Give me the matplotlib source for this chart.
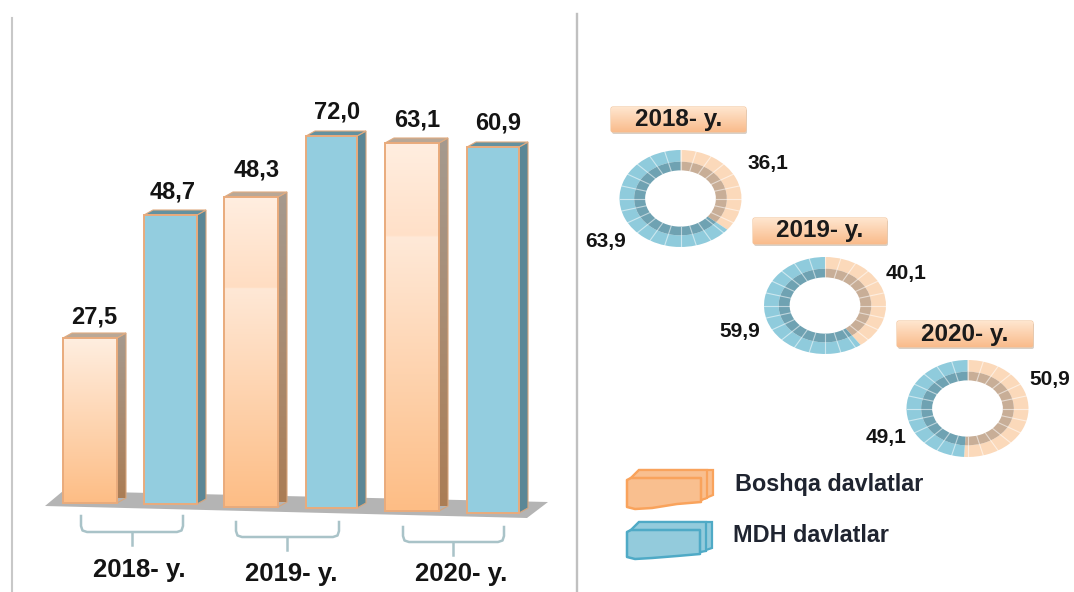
import numpy as np
import matplotlib
matplotlib.use('Agg')
import matplotlib.pyplot as plt
from matplotlib.colors import LinearSegmentedColormap
from matplotlib.patches import Polygon, FancyBboxPatch

plt.rcParams['font.family'] = ['Liberation Sans', 'DejaVu Sans']

# values printed on the chart
years = ['2018- y.', '2019- y.', '2020- y.']
boshqa = [27.5, 48.3, 63.1]
mdh = [48.7, 72.0, 60.9]
boshqa_share = [36.1, 40.1, 50.9]
mdh_share = [63.9, 59.9, 49.1]
legend_names = ['Boshqa davlatlar', 'MDH davlatlar']

# drawn bar heights (the bars there are not to scale with the labels)
bar_heights = [165, 289, 310, 372, 368, 366]


def fmt(v):
    return f'{v:.1f}'.replace('.', ',')


W, H = 1074, 592
fig = plt.figure(figsize=(W / 100, H / 100), dpi=100)

# pixel axes for the decoration, y goes down like in the picture
ax = fig.add_axes([0, 0, 1, 1])
ax.set_xlim(0, W)
ax.set_ylim(H, 0)
ax.axis('off')


def gradient(a, x0, x1, y0, y1, stops, clip, zorder=3):
    cmap = LinearSegmentedColormap.from_list('g', stops)
    img = a.imshow(np.linspace(0, 1, 256)[:, None], cmap=cmap, vmin=0, vmax=1,
                   extent=(x0, x1, y0, y1), origin='upper', aspect='auto',
                   interpolation='bilinear', zorder=zorder)
    img.set_clip_path(clip)


# separators
ax.plot([11.5, 11.5], [18, 592], color='#c8c8c8', lw=1.5)
ax.plot([577, 577], [14, 592], color='#c0c0c0', lw=1.7)

# floor
ax.add_patch(Polygon([(45, 506), (63, 491), (548, 502), (527, 518)], color='#b4b4b4', lw=0))

# brackets
bracket_x = [(81, 183, 132), (236, 339, 287), (403, 504, 453)]
bracket_y = [(516, 532, 545), (522, 537, 550), (527, 542, 555)]
for (xa, xb, xm), (ya, yb, yc) in zip(bracket_x, bracket_y):
    ax.plot([xa, xa, xa + 1.5, xa + 6, xb - 6, xb - 1.5, xb, xb],
            [ya, yb - 6, yb - 1.5, yb, yb, yb - 1.5, yb - 6, ya],
            color='#a9c3c8', lw=1.8, solid_joinstyle='round')
    ax.plot([xm, xm], [yb, yc], color='#a9c3c8', lw=1.8)

# bars, on an axes with y going up
bx = fig.add_axes([0, 0, 1, 1], zorder=2)
bx.patch.set_alpha(0)
bx.axis('off')

lefts = [63, 144, 224, 306, 385, 467]
rights = [117, 197, 278, 357, 439, 519]
bases = [H - b for b in [503, 504, 507, 508, 511, 513]]
widths = [r - l for l, r in zip(lefts, rights)]
centers = [(l + r) / 2 for l, r in zip(lefts, rights)]
is_orange = [True, False, True, False, True, False]
value_list = [boshqa[0], mdh[0], boshqa[1], mdh[1], boshqa[2], mdh[2]]
orange_stops = {
    0: [(0, '#ffeee0'), (1, '#fdbd85')],
    2: [(0, '#ffeee0'), (0.29, '#ffddc2'), (0.295, '#ffe8d6'), (1, '#fdbd85')],
    4: [(0, '#ffeee0'), (0.25, '#ffe0c8'), (0.255, '#ffe9d8'), (1, '#fdbd85')],
}
label_pos = [(94, 317), (173, 192), (257, 170), (337, 112), (417, 120), (498, 123)]

bars = bx.bar(centers, bar_heights, width=widths, bottom=bases,
              color=['none' if o else '#93cddf' for o in is_orange],
              edgecolor='#e9ab7c', linewidth=1.4, zorder=5)
dx, dy = 9, 5
for i, b in enumerate(bars):
    l, r = b.get_x(), b.get_x() + b.get_width()
    y0, y1 = b.get_y(), b.get_y() + b.get_height()
    side = Polygon([(r, y1), (r + dx, y1 + dy), (r + dx, y0 + dy), (r, y0)], lw=0.8,
                   edgecolor='#d9a67c', facecolor='none', zorder=4)
    top = Polygon([(l, y1), (l + dx, y1 + dy), (r + dx, y1 + dy), (r, y1)], lw=0.8,
                  edgecolor='#e0ab80', zorder=4,
                  facecolor='#b9a897' if is_orange[i] else '#64919f')
    bx.add_patch(side)
    bx.add_patch(top)
    if is_orange[i]:
        gradient(bx, r, r + dx, y0 + dy, y1 + dy, [(0, '#a59a8f'), (1, '#ab7d55')], side)
        gradient(bx, l, r, y0, y1, orange_stops[i], b, zorder=4.5)
    else:
        side.set_facecolor('#5b8796')
    tx, ty = label_pos[i]
    ax.text(tx, ty, fmt(value_list[i]), ha='center', va='center', fontsize=17,
            fontweight='bold', color='#141414', zorder=8)
bx.set_xlim(0, W)
bx.set_ylim(0, H)

year_pos = [(139, 570), (291, 574), (461, 574)]
for (x, y), name in zip(year_pos, years):
    ax.text(x, y, name, ha='center', va='center', fontsize=18.5, fontweight='bold', color='#141414')

# rings
ring_centers = [(680.5, 198.5), (825, 305.5), (967.5, 408.5)]
rx, ry = 61, 48.5
ring_labels = [((768, 164), (606, 241)), ((906, 273), (740, 331)), ((1050, 379), (886, 437))]
badges = [(611, 107, 746, 132), (753, 218, 887, 244), (897, 321, 1033, 347)]
for i in range(3):
    cx, cy = ring_centers[i]
    pa = fig.add_axes([(cx - rx) / W, 1 - (cy + ry) / H, 2 * rx / W, 2 * ry / H])
    shares = [boshqa_share[i], mdh_share[i]]
    pa.pie(shares, colors=['#fbd9ba', '#8fcbdc'], startangle=90, counterclock=False,
           radius=1, wedgeprops={'width': 0.24, 'linewidth': 0})
    pa.pie(shares, colors=['#c8ae97', '#6fa2b2'], startangle=90, counterclock=False,
           radius=0.76, wedgeprops={'width': 0.18, 'linewidth': 0})
    pa.set_aspect('auto')
    pa.set_xlim(-1, 1)
    pa.set_ylim(-1, 1)
    for a in np.arange(0, 360, 15):
        c, s = np.cos(np.radians(a)), np.sin(np.radians(a))
        pa.plot([0.58 * c, 1.02 * c], [0.58 * s, 1.02 * s], color='white', lw=0.8, alpha=0.55)

    for (x, y), v in zip(ring_labels[i], shares):
        ax.text(x, y, fmt(v), ha='center', va='center', fontsize=15, fontweight='bold', color='#141414')

    x0, y0, x1, y1 = badges[i]
    ax.add_patch(FancyBboxPatch((x0 + 1, y0 + 2), x1 - x0, y1 - y0, boxstyle='round,pad=0,rounding_size=2',
                                fc='#d8d0c8', ec='none', zorder=2))
    badge = FancyBboxPatch((x0, y0), x1 - x0, y1 - y0, boxstyle='round,pad=0,rounding_size=2',
                           fc='none', ec='#f2c49c', lw=0.8, zorder=3)
    ax.add_patch(badge)
    gradient(ax, x0, x1, y1, y0, [(0, '#ffe6cf'), (1, '#f9bb8b')], badge)
    ax.set_xlim(0, W)
    ax.set_ylim(H, 0)
    ax.text((x0 + x1) / 2, (y0 + y1) / 2, years[i], ha='center', va='center', fontsize=17.5,
            fontweight='bold', color='#1a1a1a', zorder=4)

# legend
legend_shapes = [
    dict(fill='#f9bf8f', edge='#f9a35c', x0=627, x1=701, top=478, bl=508, br=502, xb=713, back=470, brb=495, ty=485, tx=735),
    dict(fill='#93cbdc', edge='#4faac6', x0=627, x1=700, top=530, bl=558, br=554, xb=712, back=522, brb=548, ty=535, tx=733),
]
for s, name in zip(legend_shapes, legend_names):
    for shift in [0, 6]:
        xr = s['xb'] - shift
        ax.add_patch(Polygon([(s['x0'] + 4, s['top']), (s['x0'] + 12, s['back']), (xr, s['back']),
                              (xr, s['brb'] + shift / 2), (s['x1'], s['br'] - 2)],
                             fc=s['fill'], ec=s['edge'], lw=1.6, zorder=2))
    ax.add_patch(Polygon([(s['x0'], s['top'] + 2), (s['x0'] + 4, s['top']), (s['x1'], s['top']), (s['x1'], s['br']),
                          (s['x0'] + 50, s['br'] + 2), (s['x0'] + 25, s['bl']), (s['x0'] + 8, s['bl'] + 1), (s['x0'], s['bl'] - 1)],
                         fc=s['fill'], ec=s['edge'], lw=1.8, zorder=3, joinstyle='round'))
    ax.text(s['tx'], s['ty'], name, ha='left', va='center', fontsize=16.8, fontweight='bold', color='#1f2430')

fig.savefig('out.png', dpi=100, facecolor='white')
